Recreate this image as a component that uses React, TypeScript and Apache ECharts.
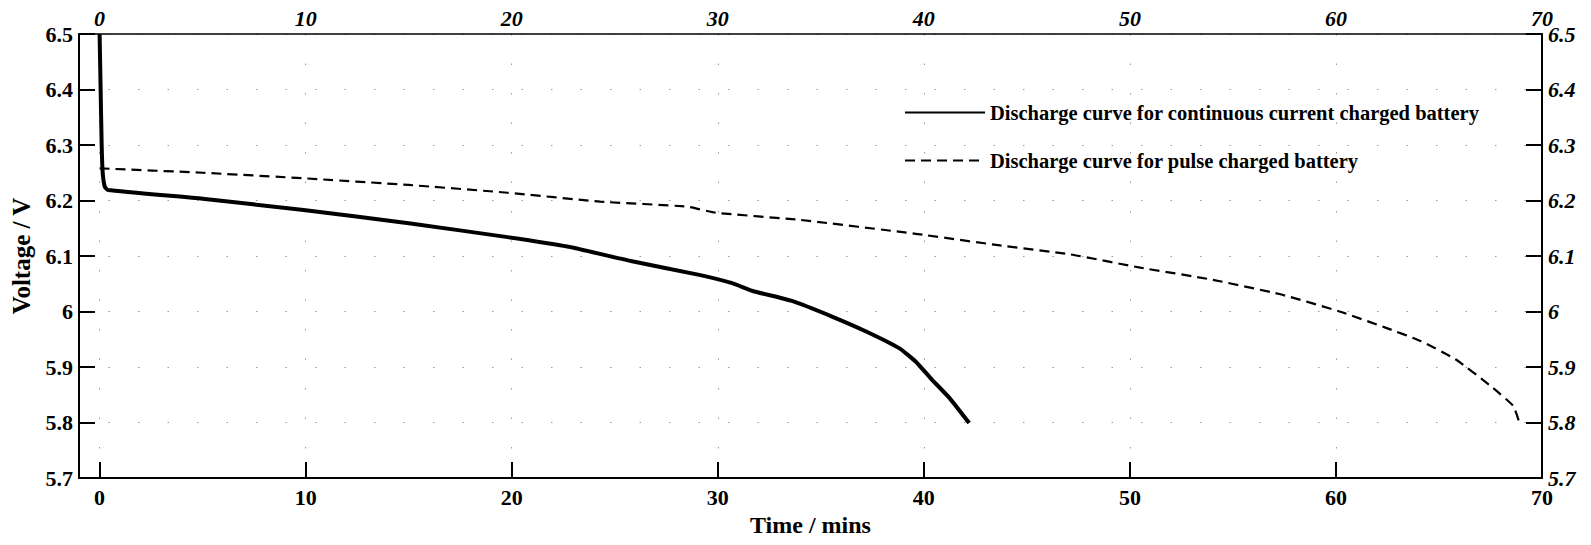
import React, { useEffect, useRef } from "react";
import * as echarts from "echarts";

// Continuous current charged battery (solid)
const contTime = [0, 0.05, 0.1, 0.15, 0.25, 0.4, 5, 9.9, 15, 19.8, 22.7, 25.9, 29.1, 30.7, 31.7, 33.6, 35.6, 37.2, 38.8, 39.6, 40.4, 41.25, 42.2];
const contVolt = [6.5, 6.4, 6.3, 6.25, 6.225, 6.219, 6.203, 6.183, 6.159, 6.134, 6.117, 6.09, 6.066, 6.051, 6.037, 6.019, 5.99, 5.964, 5.934, 5.91, 5.877, 5.844, 5.799];

// Pulse charged battery (dashed)
const pulseTime = [0, 5, 9.9, 15, 19.8, 24.3, 28.5, 29.9, 34, 39.6, 43.7, 47.1, 50.5, 53.9, 57.3, 60.1, 62.4, 64.1, 65.8, 67.5, 68.6, 68.9];
const pulseVolt = [6.258, 6.25, 6.24, 6.228, 6.214, 6.198, 6.189, 6.178, 6.165, 6.14, 6.119, 6.103, 6.079, 6.058, 6.031, 6.001, 5.971, 5.947, 5.914, 5.866, 5.83, 5.8];

const xTicks = [0, 10, 20, 30, 40, 50, 60, 70];
const seriesNames = [
  "Discharge curve for continuous current charged battery",
  "Discharge curve for pulse charged battery",
];

const FONT = "'Liberation Serif', 'Times New Roman', serif";

export default function App() {
  const ref = useRef<HTMLDivElement>(null);
  useEffect(() => {
    if (!ref.current) return;
    const chart = echarts.init(ref.current, undefined, { renderer: "svg" });
    const grid = { lineStyle: { color: "#999", width: 1, type: [1.5, 28] as any } };
    const axisLine = { show: true, onZero: false, lineStyle: { color: "#000", width: 2 } };
    chart.setOption({
      animation: false,
      backgroundColor: "#fff",
      grid: { left: 79, right: 49, top: 34, bottom: 67, containLabel: false },
      legend: {
        orient: "vertical",
        left: 899,
        top: 97,
        itemGap: 27,
        itemWidth: 80,
        itemHeight: 12,
        itemStyle: { opacity: 0 },
        textStyle: { fontFamily: FONT, fontWeight: "bold", fontSize: 20.5, color: "#000" },
        data: seriesNames,
      },
      xAxis: [
        {
          type: "value",
          position: "bottom",
          min: -1,
          max: 70,
          splitNumber: 7,
          axisLine,
          axisTick: { show: true, inside: true, length: 16, customValues: xTicks, lineStyle: { color: "#000", width: 2 } },
          axisLabel: { customValues: xTicks, fontFamily: FONT, fontWeight: "bold", fontSize: 22, color: "#000", margin: 8 },
          splitLine: { show: true, ...grid },
          name: "Time / mins",
          nameLocation: "middle",
          nameGap: 33,
          nameTextStyle: { fontFamily: FONT, fontWeight: "bold", fontSize: 24, color: "#000" },
        },
        {
          type: "value",
          position: "top",
          min: -1,
          max: 70,
          splitNumber: 7,
          axisLine: { show: true, onZero: false, lineStyle: { color: "#000", width: 1.5 } },
          axisTick: { show: false },
          axisLabel: { customValues: xTicks, fontFamily: FONT, fontWeight: "bold", fontStyle: "italic", fontSize: 22, color: "#000", margin: 5 },
          splitLine: { show: false },
        },
      ],
      yAxis: [
        {
          type: "value",
          position: "left",
          min: 5.7,
          max: 6.5,
          interval: 0.1,
          axisLine,
          axisTick: { show: true, inside: true, length: 16, lineStyle: { color: "#000", width: 2 } },
          axisLabel: { fontFamily: FONT, fontWeight: "bold", fontSize: 22, color: "#000", margin: 6 },
          splitLine: { show: true, ...grid },
          name: "Voltage / V",
          nameLocation: "middle",
          nameGap: 45,
          nameTextStyle: { fontFamily: FONT, fontWeight: "bold", fontSize: 25, color: "#000" },
        },
        {
          type: "value",
          position: "right",
          min: 5.7,
          max: 6.5,
          interval: 0.1,
          axisLine,
          axisTick: { show: true, inside: true, length: 16, lineStyle: { color: "#000", width: 2 } },
          axisLabel: { fontFamily: FONT, fontWeight: "bold", fontStyle: "italic", fontSize: 22, color: "#000", margin: 6 },
          splitLine: { show: false },
        },
      ],
      series: [
        {
          name: seriesNames[0],
          type: "line",
          xAxisIndex: 0,
          yAxisIndex: 0,
          symbol: "none",
          smooth: 0.15,
          lineStyle: { color: "#000", width: 4 },
          itemStyle: { color: "#000" },
          data: contTime.map((t, i) => [t, contVolt[i]]),
        },
        {
          name: seriesNames[1],
          type: "line",
          xAxisIndex: 0,
          yAxisIndex: 0,
          symbol: "none",
          smooth: 0.15,
          lineStyle: { color: "#000", width: 2.2, type: [10, 6] },
          itemStyle: { color: "#000" },
          data: pulseTime.map((t, i) => [t, pulseVolt[i]]),
        },
      ],
    });
    return () => chart.dispose();
  }, []);
  return (
    <div
      ref={ref}
      style={{ position: "fixed", left: 0, top: 0, width: 1591, height: 545, background: "#fff" }}
    />
  );
}
